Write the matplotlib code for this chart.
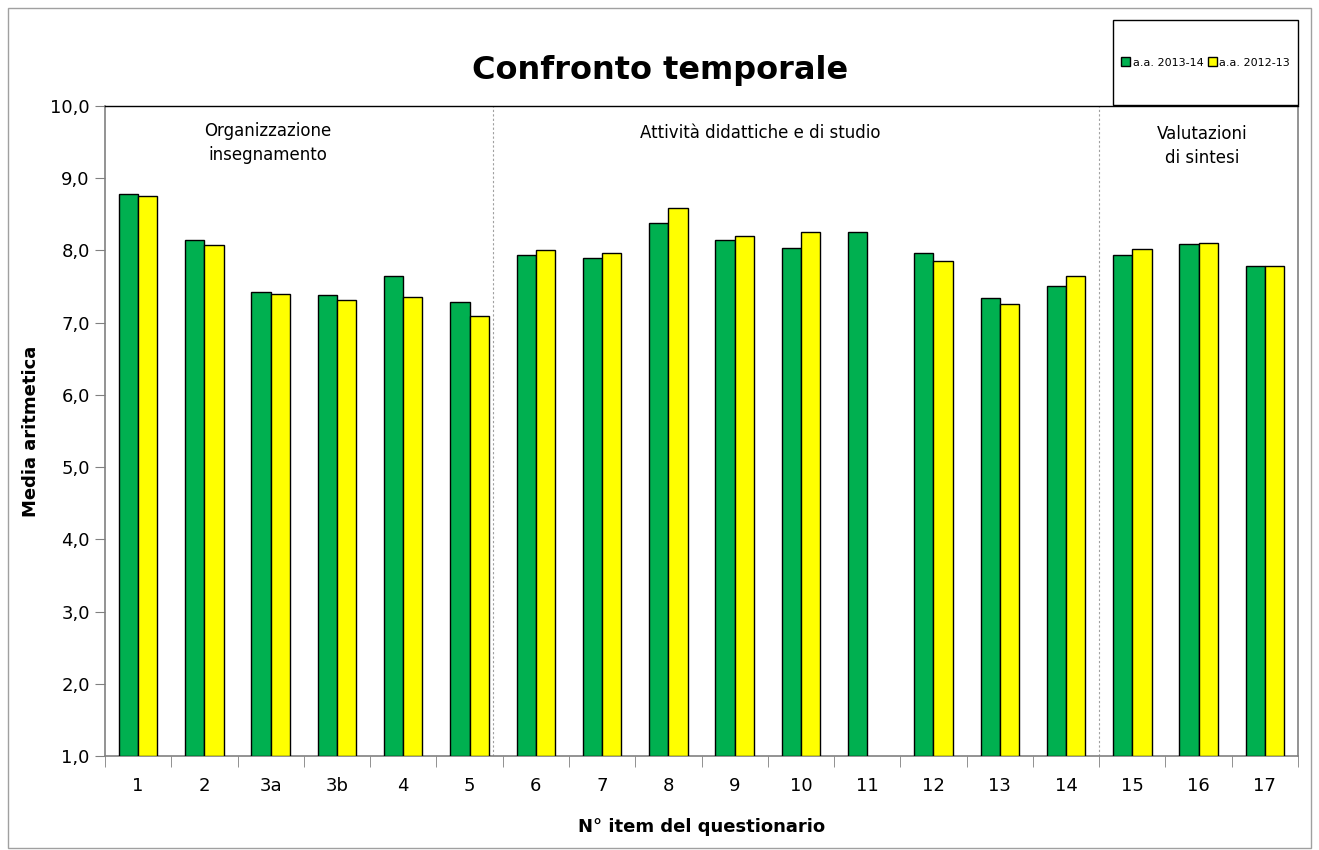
import matplotlib
matplotlib.use("Agg")
import matplotlib.pyplot as plt
from matplotlib.patches import Rectangle, Patch
from matplotlib.ticker import FixedLocator, FuncFormatter
import numpy as np

plt.rcParams['font.family'] = ['DejaVu Sans']

categories = ["1", "2", "3a", "3b", "4", "5", "6", "7", "8", "9", "10", "11",
              "12", "13", "14", "15", "16", "17"]
values_2013_14 = [8.78, 8.14, 7.42, 7.38, 7.65, 7.29, 7.94, 7.89, 8.38, 8.14,
                  8.04, 8.26, 7.96, 7.34, 7.51, 7.94, 8.09, 7.79]
values_2012_13 = [8.76, 8.08, 7.40, 7.31, 7.36, 7.09, 8.01, 7.97, 8.59, 8.20,
                  8.26, np.nan, 7.85, 7.26, 7.64, 8.02, 8.10, 7.78]
series_labels = ["a.a. 2013-14", "a.a. 2012-13"]
colors = ["#00B050", "#FFFF00"]

fig = plt.figure(figsize=(13.19, 8.5), dpi=100)
ax = fig.add_axes([105/1319, 1 - 756/850, (1298-105)/1319, (756-106)/850])

x = np.arange(len(categories))
w = 0.29
base = 1.0
g = np.array(values_2013_14)
yv = np.array(values_2012_13)
ax.bar(x - w/2, g - base, w, bottom=base, color=colors[0], edgecolor="black", linewidth=1.0, zorder=3)
mask = ~np.isnan(yv)
ax.bar(x[mask] + w/2, yv[mask] - base, w, bottom=base, color=colors[1], edgecolor="black", linewidth=1.0, zorder=3)

ax.set_xlim(-0.5, len(categories) - 0.5)
ax.set_ylim(1, 10)
ax.set_yticks(np.arange(1, 11, 1))
ax.yaxis.set_major_formatter(FuncFormatter(lambda v, p: f"{v:.1f}".replace(".", ",")))
ax.set_xticks(x)
ax.set_xticklabels(categories)
ax.xaxis.set_minor_locator(FixedLocator(np.arange(-0.5, len(categories), 1)))
ax.tick_params(axis="x", which="major", length=0, pad=15, labelsize=13)
ax.tick_params(axis="x", which="minor", length=8, color="#808080", direction="out")
ax.tick_params(axis="y", which="major", length=7, color="#808080", direction="out", labelsize=13, pad=4)

for side in ["left", "bottom", "right"]:
    ax.spines[side].set_color("#808080")
    ax.spines[side].set_linewidth(1.2)
ax.spines["top"].set_color("black")
ax.spines["top"].set_linewidth(1.0)

# section dividers
for xd in [5.35, 14.5]:
    ax.axvline(xd, color="#a0a0a0", linestyle=(0, (2, 2)), linewidth=0.8, zorder=1)

ax.text(1.96, 9.49, "Organizzazione\ninsegnamento", ha="center", va="center", fontsize=12, linespacing=1.4)
ax.text(9.38, 9.63, "Attività didattiche e di studio", ha="center", va="center", fontsize=12)
ax.text(16.06, 9.45, "Valutazioni\ndi sintesi", ha="center", va="center", fontsize=12, linespacing=1.4)

ax.set_ylabel("Media aritmetica", fontsize=13, fontweight="bold", labelpad=7)
ax.set_xlabel("N° item del questionario", fontsize=13, fontweight="bold", labelpad=17)

fig.text(660/1319, 1 - 70/850, "Confronto temporale", ha="center", va="center",
         fontsize=23, fontweight="bold")

# outer frame
fig.patches.append(Rectangle((8/1319, 2/850), (1311-8)/1319, (842-2)/850, transform=fig.transFigure,
                             fill=False, edgecolor="#a0a0a0", linewidth=1.0))
# legend box
lx0, ly0, lx1, ly1 = 1113, 20, 1298, 105
fig.patches.append(Rectangle((lx0/1319, 1 - ly1/850), (lx1-lx0)/1319, (ly1-ly0)/850,
                             transform=fig.transFigure, fill=True, facecolor="white",
                             edgecolor="black", linewidth=1.0, zorder=5))
handles = [Patch(facecolor=colors[0], edgecolor="black", label=series_labels[0]),
           Patch(facecolor=colors[1], edgecolor="black", label=series_labels[1])]
leg = fig.legend(handles=handles, loc="center", bbox_to_anchor=((lx0+lx1)/2/1319, 1 - (ly0+ly1)/2/850),
                 ncol=2, frameon=False, fontsize=8, handlelength=0.8, handleheight=0.8,
                 handletextpad=0.2, columnspacing=0.4, borderpad=0)
leg.set_zorder(6)

fig.savefig("out.png", dpi=100)
